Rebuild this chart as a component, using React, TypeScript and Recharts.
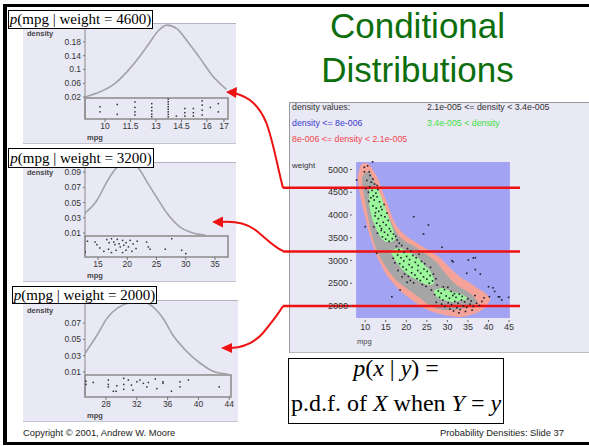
import React from 'react';
import {
  ComposedChart,
  Line,
  Scatter,
  Area,
  XAxis,
  YAxis,
  ReferenceArea,
  ReferenceLine,
} from 'recharts';

// left panels: p(mpg | weight) curves, [mpg, density]
const curve4600 = [[8.82, 0.02], [9.71, 0.035], [10.47, 0.055], [11.29, 0.093], [12.06, 0.139], [12.65, 0.18], [13.12, 0.212], [13.65, 0.229], [14.24, 0.218], [14.88, 0.18], [15.59, 0.133], [16.29, 0.084], [17.15, 0.042]];
const curve3200 = [[12.78, 0.036], [14.83, 0.053], [16.5, 0.077], [18.2, 0.096], [19.96, 0.102], [21.7, 0.097], [23.4, 0.077], [25.1, 0.056], [26.8, 0.036], [29.0, 0.018], [31.2, 0.01], [33.3, 0.0074]];
const curve2000 = [[25.27, 0.033], [26.83, 0.055], [28.13, 0.076], [29.56, 0.089], [31.12, 0.095], [32.8, 0.096], [34.1, 0.09], [35.4, 0.076], [36.7, 0.055], [38.5, 0.035], [40.2, 0.021], [41.9, 0.011], [43.8, 0.0075]];

// rug strips: [mpg, position inside the strip 0 (bottom) .. 1 (top)]
const rug4600 = [[9.7, 0.58], [9.7, 0.34], [10.72, 0.69], [10.72, 0.22], [11.76, 0.81], [11.76, 0.55], [11.76, 0.34], [11.76, 0.19], [12.75, 0.73], [12.75, 0.55], [12.75, 0.39], [12.75, 0.23], [12.75, 0.11], [13.72, 0.95], [13.72, 0.82], [13.72, 0.7], [13.72, 0.58], [13.72, 0.46], [13.72, 0.34], [13.72, 0.22], [13.72, 0.1], [14.2, 0.14], [14.7, 0.5], [14.7, 0.3], [14.7, 0.14], [15.2, 0.5], [15.2, 0.3], [15.2, 0.14], [15.72, 0.86], [15.72, 0.66], [15.72, 0.42], [15.72, 0.19], [16.2, 0.55], [16.67, 0.73], [16.67, 0.34]];
const rug3200 = [[13.2, 0.75], [14.5, 0.71], [14.8, 0.59], [16.5, 0.83], [16.9, 0.68], [17.3, 0.87], [17.7, 0.71], [18.3, 0.84], [18.6, 0.63], [19.2, 0.79], [19.8, 0.68], [20.5, 0.79], [21.0, 0.62], [21.7, 0.75], [23.3, 0.71], [12.8, 0.24], [15.3, 0.43], [16.0, 0.27], [16.8, 0.37], [17.3, 0.21], [18.1, 0.32], [18.8, 0.48], [19.2, 0.21], [19.8, 0.32], [20.2, 0.48], [20.8, 0.27], [21.5, 0.4], [23.6, 0.48], [23.9, 0.37], [26.5, 0.37], [27.6, 0.87], [29.3, 0.32], [30.0, 0.16], [17.9, 0.59], [19.4, 0.56]];
const rug2000 = [[25.4, 0.72], [25.4, 0.57], [26.35, 0.66], [28.3, 0.77], [28.3, 0.57], [28.3, 0.46], [29.4, 0.51], [28.95, 0.26], [30.3, 0.85], [30.3, 0.57], [30.3, 0.35], [30.9, 0.77], [31.3, 0.54], [31.5, 0.31], [32.4, 0.77], [32.85, 0.62], [33.3, 0.46], [34.4, 0.82], [35.4, 0.69], [35.4, 0.62], [34.6, 0.38], [36.5, 0.26], [37.6, 0.69], [37.6, 0.46], [38.7, 0.77], [42.7, 0.46], [29.3, 0.26], [32.0, 0.69], [33.5, 0.66]];

const ticks4600 = [10, 11.5, 13, 14.5, 16, 17];
const ticks3200 = [15, 20, 25, 30, 35];
const ticks2000 = [28, 32, 36, 40, 44];
const densTicks4600 = [0.02, 0.06, 0.1, 0.14, 0.18];
const densTicks3200 = [0.01, 0.03, 0.05, 0.07, 0.09];
const densTicks2000 = [0.01, 0.03, 0.05, 0.07];

// right plot: density contour bands, [mpg, low weight, high weight]
const plotRect = [[7.8, 1736, 5165], [45.2, 1736, 5165]];
const bandLow = [[8.18, 4791, 4835], [8.54, 4550, 4989], [9.27, 4220, 5121], [10.0, 3956, 5143], [10.73, 3670, 5121], [11.46, 3451, 5055], [12.19, 3253, 4945], [12.92, 3077, 4835], [13.65, 2945, 4660], [14.38, 2813, 4484], [15.35, 2659, 4264], [16.57, 2528, 3956], [18.03, 2374, 3714], [19.73, 2242, 3561], [21.43, 2132, 3451], [23.38, 2000, 3341], [25.81, 1890, 3209], [28.24, 1824, 3055], [30.67, 1780, 2835], [33.1, 1758, 2637], [35.54, 1802, 2506], [37.97, 1890, 2352], [39.43, 2000, 2264], [40.4, 2132, 2176]];
const bandMid = [[9.27, 4682, 4813], [9.76, 4418, 4901], [10.49, 4066, 4945], [11.22, 3714, 4923], [12.19, 3385, 4726], [13.4, 3121, 4484], [14.62, 2923, 4220], [16.08, 2725, 3890], [17.54, 2571, 3627], [19.0, 2462, 3473], [20.94, 2330, 3363], [23.38, 2176, 3231], [25.81, 2000, 3077], [27.75, 1934, 2923], [29.46, 1912, 2725], [31.89, 1912, 2484], [34.32, 1956, 2352], [36.02, 2000, 2242], [37.24, 2066, 2110]];
const bandHighA = [[10.97, 4220, 4550], [11.7, 3934, 4616], [12.43, 3758, 4616], [13.16, 3605, 4550], [13.89, 3495, 4396], [14.62, 3429, 4220], [15.35, 3407, 4044], [16.08, 3407, 3846], [16.81, 3429, 3670], [17.3, 3473, 3539]];
const bandHighB = [[16.32, 3165, 3209], [17.3, 3011, 3253], [18.51, 2857, 3275], [19.73, 2747, 3231], [20.94, 2659, 3187], [22.16, 2593, 3099], [23.38, 2528, 3011], [24.59, 2484, 2879], [25.81, 2462, 2769], [26.78, 2506, 2571]];
const bandHighC = [[26.78, 2286, 2352], [27.75, 2176, 2374], [28.97, 2132, 2396], [30.19, 2110, 2352], [31.4, 2088, 2308], [32.62, 2110, 2286], [33.83, 2132, 2242], [34.81, 2154, 2176]];

// cars: [mpg, weight]
const cars = [
  [9.8, 4950], [10.6, 5080], [11.2, 4870], [10.4, 4760], [11.9, 4790], [12.3, 4680], [11.1, 4620], [10.8, 4500], [11.7, 4540], [12.6, 4480],
  [13.1, 4560], [11.4, 4380], [12.2, 4330], [12.9, 4400], [13.5, 4290], [11.9, 4200], [12.7, 4150], [13.3, 4080], [14.1, 4120], [14.6, 4230],
  [12.4, 3980], [13.2, 3920], [13.9, 3990], [14.8, 3960], [15.3, 4040], [12.8, 3820], [13.6, 3760], [14.4, 3840], [15.1, 3780], [15.9, 3700],
  [13.9, 3660], [14.7, 3620], [15.5, 3560], [16.2, 3640], [16.9, 3580], [14.2, 3520], [15.0, 3470], [15.8, 3420], [16.6, 3480], [17.4, 3530],
  [11.5, 4720], [12.0, 4420], [13.8, 4180], [10.9, 4300], [12.5, 4050], [14.0, 3700], [15.6, 3880], [17.8, 3450], [18.3, 3380], [13.0, 3600],
  [12.1, 3740], [11.0, 4950], [12.9, 4650], [10.2, 4580],
  [17.6, 3310], [18.2, 3240], [18.9, 3330], [19.5, 3180], [20.3, 3260], [21.1, 3210], [17.9, 3120], [18.7, 3060], [19.4, 2990], [20.1, 3090],
  [20.8, 3020], [21.6, 3110], [22.4, 3060], [23.1, 3140], [18.4, 2930], [19.2, 2860], [20.0, 2800], [20.7, 2910], [21.4, 2850], [22.2, 2960],
  [22.9, 2890], [23.7, 2980], [24.5, 2930], [19.6, 2700], [20.5, 2650], [21.3, 2730], [22.1, 2680], [22.8, 2780], [23.5, 2720], [24.3, 2810],
  [25.1, 2760], [25.9, 2850], [21.0, 2560], [21.8, 2510], [22.6, 2600], [23.4, 2560], [24.2, 2640], [25.0, 2590], [25.8, 2670], [26.6, 2700],
  [23.9, 2470], [24.8, 2430], [25.6, 2500], [26.4, 2550], [27.2, 2600], [17.2, 2950], [18.0, 2780], [19.0, 2640], [20.2, 2520], [16.8, 3050],
  [26.1, 2350], [27.5, 2460],
  [27.8, 2330], [28.5, 2280], [29.3, 2360], [30.1, 2410], [30.9, 2320], [31.7, 2270], [28.1, 2190], [28.9, 2130], [29.7, 2220], [30.5, 2170],
  [31.3, 2230], [32.1, 2190], [32.9, 2260], [33.6, 2210], [28.6, 2040], [29.4, 1990], [30.2, 2070], [31.0, 2030], [31.8, 2100], [32.6, 2060],
  [33.4, 2130], [34.2, 2090], [35.0, 2160], [35.8, 2110], [30.6, 1930], [31.5, 1890], [32.3, 1960], [33.1, 1920], [33.9, 2000], [34.7, 1970],
  [35.5, 2040], [36.3, 1990], [37.1, 2060], [37.8, 2010], [34.4, 1880], [36.0, 1910], [38.4, 2100], [29.0, 2420], [26.9, 2250], [27.3, 2080],
  [36.7, 2230], [38.9, 2180], [32.8, 1850],
  [21.8, 3963], [25.4, 3780], [24.2, 3583], [28.7, 3290], [31.1, 2996], [35.1, 3011], [36.8, 3062], [34.7, 2719], [40.2, 2204], [42.4, 2204],
  [43.2, 2132], [44.9, 2190], [40.0, 2424], [16.5, 2204], [18.5, 2352], [10.0, 3743], [7.9, 4769], [9.8, 5049], [11.8, 5170], [12.8, 3158],
  [38.0, 2700], [41.5, 2320], [31.4, 2970], [36.3, 3055], [36.8, 2800], [41.1, 2400], [42.7, 2200],
];

const mpgTicks = [10, 15, 20, 25, 30, 35, 40, 45];
const weightTicks = [2000, 2500, 3000, 3500, 4000, 4500, 5000];
const slices = [4600, 3200, 2000];

const PANEL_BG = '#e9e9f5';
const RED = '#ee1111';
const SANS = '"Liberation Sans", Arial, sans-serif';
const SERIF = '"Liberation Serif", "Times New Roman", serif';

const toRows = (pts: number[][]) => pts.map(([mpg, density]) => ({ mpg, density }));
const toBand = (pts: number[][]) => pts.map(([mpg, lo, hi]) => ({ mpg, range: [lo, hi] }));

function Dot(props: any) {
  const s = props.size ?? 1.6;
  return <rect x={props.cx - s / 2} y={props.cy - s / 2} width={s} height={s} fill={props.color ?? '#222'} />;
}

interface PanelProps {
  weight: number;
  left: number;
  top: number;
  width: number;
  height: number;
  marginRight: number;
  xAxisHeight: number;
  marginBottom: number;
  xDomain: [number, number];
  yDomain: [number, number];
  stripTop: number;
  xTicks: number[];
  yTicks: number[];
  curve: number[][];
  rug: number[][];
  labelBox: { left: number; top: number; width: number; height: number };
}

function DensityPanel(p: PanelProps) {
  const [lo] = p.yDomain;
  const rugRows = p.rug.map(([mpg, j]) => ({ mpg, y: lo + j * (p.stripTop - lo) }));
  const tickStyle = { fontSize: 8.5, fill: '#333', fontFamily: SANS };
  return (
    <>
      <div
        style={{
          position: 'absolute',
          left: p.left,
          top: p.top,
          width: p.width,
          height: p.height,
          background: PANEL_BG,
          borderTop: '1px solid #b4b4c4',
          borderBottom: '1px solid #c4c4d0',
          boxSizing: 'border-box',
        }}
      />
      <div style={{ position: 'absolute', left: p.left, top: p.top }}>
        <ComposedChart
          width={p.width}
          height={p.height}
          margin={{ top: 0, right: p.marginRight, left: 22, bottom: p.marginBottom }}
        >
          <XAxis
            type="number"
            dataKey="mpg"
            domain={p.xDomain}
            allowDataOverflow
            ticks={p.xTicks}
            interval={0}
            height={p.xAxisHeight}
            axisLine={false}
            tickSize={3}
            tickMargin={1}
            tickLine={{ stroke: '#777' }}
            tick={tickStyle}
          />
          <YAxis
            type="number"
            domain={p.yDomain}
            allowDataOverflow
            ticks={p.yTicks}
            interval={0}
            width={40}
            tickSize={2}
            tickMargin={2}
            axisLine={{ stroke: '#8a8a8a' }}
            tickLine={{ stroke: '#777' }}
            tick={tickStyle}
            tickFormatter={(v: number) => String(v)}
          />
          <ReferenceArea
            x1={p.xDomain[0]}
            x2={p.xDomain[1]}
            y1={lo}
            y2={p.stripTop}
            fill="none"
            stroke="#8a8a8a"
            strokeWidth={1.5}
            ifOverflow="visible"
          />
          <Line
            data={toRows(p.curve)}
            dataKey="density"
            type="monotone"
            stroke="#a2a2a8"
            strokeWidth={1.6}
            dot={false}
            isAnimationActive={false}
          />
          <Scatter data={rugRows} dataKey="y" shape={(s: any) => <Dot {...s} size={1.5} color="#333" />} isAnimationActive={false} />
        </ComposedChart>
      </div>
      <div style={{ position: 'absolute', left: p.left + 4, top: p.top + 6, fontSize: 7.5, fontWeight: 'bold', color: '#444', fontFamily: SANS }}>
        density
      </div>
      <div style={{ position: 'absolute', left: p.left + 64, top: p.top + p.height - 11, fontSize: 7.5, fontWeight: 'bold', color: '#444', fontFamily: SANS }}>
        mpg
      </div>
      <div
        style={{
          position: 'absolute',
          left: p.labelBox.left,
          top: p.labelBox.top,
          width: p.labelBox.width,
          height: p.labelBox.height,
          border: '1px solid #000',
          background: '#fff',
          boxSizing: 'border-box',
          fontFamily: SERIF,
          fontSize: 15,
          lineHeight: `${p.labelBox.height - 2}px`,
          textAlign: 'center',
          whiteSpace: 'nowrap',
          color: '#000',
        }}
      >
        <i>p</i>(mpg | weight = {p.weight})
      </div>
    </>
  );
}

function ContourPlot() {
  const tickStyle = { fontSize: 9, fill: '#333', fontFamily: SANS };
  const carRows = cars.map(([mpg, weight]) => ({ mpg, weight }));
  return (
    <ComposedChart width={252} height={250} margin={{ top: 60, right: 14, left: 36, bottom: 10 }}>
      <XAxis
        type="number"
        dataKey="mpg"
        domain={[6.8, 46.2]}
        allowDataOverflow
        ticks={mpgTicks}
        interval={0}
        height={20}
        axisLine={false}
        tickSize={2}
        tickMargin={2}
        tickLine={{ stroke: '#666' }}
        tick={tickStyle}
      />
      <YAxis
        type="number"
        domain={[1692, 5209]}
        allowDataOverflow
        ticks={weightTicks}
        interval={0}
        width={40}
        axisLine={false}
        tickSize={2}
        tickMargin={2}
        tickLine={{ stroke: '#666' }}
        tick={tickStyle}
      />
      <Area data={toBand(plotRect)} dataKey="range" type="linear" fill="#a3a3f4" fillOpacity={1} stroke="none" isAnimationActive={false} />
      <Area data={toBand(bandLow)} dataKey="range" type="monotone" fill="#f5a298" fillOpacity={1} stroke="none" isAnimationActive={false} />
      <Area data={toBand(bandMid)} dataKey="range" type="monotone" fill="#a6a6a6" fillOpacity={1} stroke="none" isAnimationActive={false} />
      <Area data={toBand(bandHighA)} dataKey="range" type="monotone" fill="#9cf79c" fillOpacity={1} stroke="none" isAnimationActive={false} />
      <Area data={toBand(bandHighB)} dataKey="range" type="monotone" fill="#9cf79c" fillOpacity={1} stroke="none" isAnimationActive={false} />
      <Area data={toBand(bandHighC)} dataKey="range" type="monotone" fill="#9cf79c" fillOpacity={1} stroke="none" isAnimationActive={false} />
      <Scatter data={carRows} dataKey="weight" shape={(s: any) => <Dot {...s} size={1.6} color="#1e1e2e" />} isAnimationActive={false} />
      {slices.map((w) => (
        <ReferenceLine
          key={w}
          segment={[{ x: -9.98, y: w }, { x: 47.66, y: w }]}
          stroke={RED}
          strokeWidth={2.5}
          ifOverflow="visible"
        />
      ))}
    </ComposedChart>
  );
}

export default function App() {
  const legendText = { position: 'absolute' as const, fontSize: 8.8, fontFamily: SANS, whiteSpace: 'nowrap' as const, lineHeight: '10px' };
  return (
    <div style={{ position: 'absolute', left: 0, top: 0, width: 589, height: 446, overflow: 'hidden', background: '#fff' }}>
      {/* slide frame */}
      <div
        style={{
          position: 'absolute',
          left: 3,
          top: 4,
          width: 640,
          height: 441,
          borderTop: '3px solid #000',
          borderLeft: '4px solid #000',
          borderBottom: '3px solid #000',
          boxSizing: 'border-box',
        }}
      />

      <div
        style={{
          position: 'absolute',
          left: 280,
          top: 4,
          width: 275,
          textAlign: 'center',
          fontFamily: SANS,
          fontSize: 35,
          lineHeight: '44px',
          color: '#0c6e0c',
        }}
      >
        Conditional
        <br />
        Distributions
      </div>

      <DensityPanel
        weight={4600}
        left={23}
        top={23}
        width={213}
        height={121}
        marginRight={8}
        xAxisHeight={20}
        marginBottom={5}
        xDomain={[8.82, 17.24]}
        yDomain={[-0.044, 0.2351]}
        stripTop={0.0171}
        xTicks={ticks4600}
        yTicks={densTicks4600}
        curve={curve4600}
        rug={rug4600}
        labelBox={{ left: 8, top: 10, width: 145, height: 19 }}
      />
      <DensityPanel
        weight={3200}
        left={23}
        top={162}
        width={213}
        height={120}
        marginRight={8}
        xAxisHeight={18}
        marginBottom={7}
        xDomain={[12.78, 37.22]}
        yDomain={[-0.0216, 0.1034]}
        stripTop={0.00605}
        xTicks={ticks3200}
        yTicks={densTicks3200}
        curve={curve3200}
        rug={rug3200}
        labelBox={{ left: 8, top: 148, width: 146, height: 20 }}
      />
      <DensityPanel
        weight={2000}
        left={23}
        top={300}
        width={215}
        height={122}
        marginRight={7}
        xAxisHeight={18}
        marginBottom={7}
        xDomain={[25.27, 44.23]}
        yDomain={[-0.0207, 0.0983]}
        stripTop={0.0063}
        xTicks={ticks2000}
        yTicks={densTicks2000}
        curve={curve2000}
        rug={rug2000}
        labelBox={{ left: 12, top: 286, width: 145, height: 18 }}
      />

      {/* right: weight vs mpg with density contours */}
      <div
        style={{
          position: 'absolute',
          left: 289,
          top: 102,
          width: 320,
          height: 251,
          background: PANEL_BG,
          borderTop: '1px solid #999',
          borderLeft: '1px solid #999',
          borderBottom: '1px solid #bbb',
          boxSizing: 'border-box',
        }}
      />
      <div style={{ ...legendText, left: 292, top: 102, color: '#333' }}>density values:</div>
      <div style={{ ...legendText, left: 427, top: 102, color: '#333' }}>2.1e-005 &lt;= density &lt; 3.4e-005</div>
      <div style={{ ...legendText, left: 292, top: 118, color: '#3a3ad0' }}>density &lt;= 8e-006</div>
      <div style={{ ...legendText, left: 427, top: 118, color: '#3ee03e' }}>3.4e-005 &lt; density</div>
      <div style={{ ...legendText, left: 292, top: 134, color: '#f04848' }}>8e-006 &lt;= density &lt; 2.1e-005</div>
      <div style={{ ...legendText, left: 292, top: 161, color: '#333', fontSize: 8 }}>weight</div>
      <div style={{ ...legendText, left: 357, top: 337, color: '#444', fontSize: 7.5 }}>mpg</div>
      <div style={{ position: 'absolute', left: 276, top: 100 }}>
        <ContourPlot />
      </div>

      {/* formula box */}
      <div
        style={{
          position: 'absolute',
          left: 288,
          top: 358,
          width: 216,
          height: 66,
          border: '1px solid #000',
          background: '#fff',
          boxSizing: 'border-box',
        }}
      />
      <div
        style={{
          position: 'absolute',
          left: 288,
          top: 351,
          width: 216,
          textAlign: 'center',
          fontFamily: SERIF,
          fontSize: 24,
          lineHeight: '35px',
          whiteSpace: 'nowrap',
          color: '#000',
        }}
      >
        <i>p</i>(<i>x</i> | <i>y</i>) =
        <br />
        p.d.f. of <i>X</i> when <i>Y</i> = <i>y</i>
      </div>

      {/* footer */}
      <div style={{ position: 'absolute', left: 23, top: 427, fontFamily: SANS, fontSize: 9.4, color: '#222', whiteSpace: 'nowrap' }}>
        Copyright © 2001, Andrew W. Moore
      </div>
      <div style={{ position: 'absolute', right: 25, top: 427, fontFamily: SANS, fontSize: 9.4, color: '#222', whiteSpace: 'nowrap' }}>
        Probability Densities: Slide 37
      </div>

      {/* arrows from the slices to the conditional densities */}
      <svg width={589} height={446} style={{ position: 'absolute', left: 0, top: 0, pointerEvents: 'none' }}>
        <path d="M283,188 C277,165 273,140 266,122 C259,106 250,97 234,93" stroke={RED} strokeWidth={2} fill="none" />
        <polygon points="226,92 237,87 236,98" fill={RED} />
        <path d="M283,251 C272,246 264,236 254,229 C245,223 233,221 221,222" stroke={RED} strokeWidth={2} fill="none" />
        <polygon points="212,222 223,216.5 223,227.5" fill={RED} />
        <path d="M283,306 C279,313 272,322 263,333 C256,341 246,347 231,348" stroke={RED} strokeWidth={2} fill="none" />
        <polygon points="221,348 232,343 232,353" fill={RED} />
      </svg>
    </div>
  );
}
